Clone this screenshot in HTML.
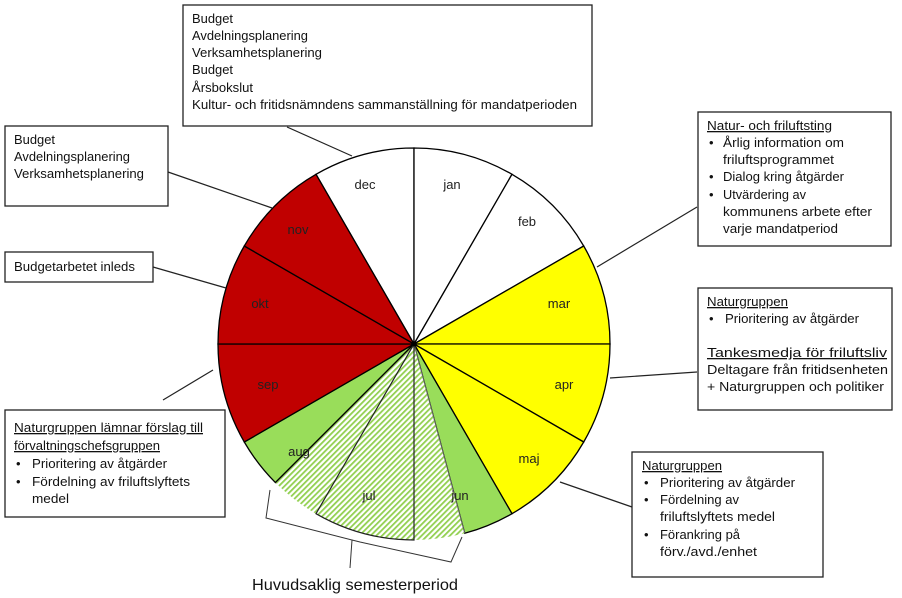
<!DOCTYPE html>
<html><head><meta charset="utf-8"><style>
html,body{margin:0;padding:0;background:#fff;}
svg{display:block;font-family:"Liberation Sans",sans-serif;}
</style></head><body>
<svg width="902" height="598" viewBox="0 0 902 598" xmlns="http://www.w3.org/2000/svg">
<defs>
<pattern id="h" width="4" height="4" patternUnits="userSpaceOnUse" patternTransform="rotate(45)">
<rect width="4" height="4" fill="#fff"/>
<rect width="1.8" height="4" fill="#92d050"/>
</pattern>
</defs>
<!-- slices -->
<g stroke="#000" stroke-width="1.3">
<path d="M414,344 L414,148 A196,196 0 0 0 316,174.3 Z" fill="#fff"/>
<path d="M414,344 L512,174.3 A196,196 0 0 0 414,148 Z" fill="#fff"/>
<path d="M414,344 L583.7,246 A196,196 0 0 0 512,174.3 Z" fill="#fff"/>
<path d="M414,344 L610,344 A196,196 0 0 0 583.7,246 Z" fill="#ffff00"/>
<path d="M414,344 L583.7,442 A196,196 0 0 0 610,344 Z" fill="#ffff00"/>
<path d="M414,344 L512,513.7 A196,196 0 0 0 583.7,442 Z" fill="#ffff00"/>
<path d="M414,344 L464.7,533.3 A196,196 0 0 0 512,513.7 Z" fill="#99dd5a"/>
<path d="M414,344 L244.3,442 A196,196 0 0 0 275.4,482.6 Z" fill="#99dd5a"/>
<path d="M414,344 L218,344 A196,196 0 0 0 244.3,442 Z" fill="#c00000"/>
<path d="M414,344 L244.3,246 A196,196 0 0 0 218,344 Z" fill="#c00000"/>
<path d="M414,344 L316,174.3 A196,196 0 0 0 244.3,246 Z" fill="#c00000"/>
</g>
<path d="M414,344 L275.4,482.6 A196,196 0 0 0 464.7,533.3 Z" fill="url(#h)"/>
<line x1="414" y1="344" x2="464.7" y2="533.3" stroke="#666" stroke-width="1"/>
<line x1="414" y1="344" x2="275.4" y2="482.6" stroke="#000" stroke-width="1.3"/>
<path d="M414,344 L414,540 A196,196 0 0 1 316,513.7 Z" fill="none" stroke="#222" stroke-width="1.2"/>
<circle cx="414" cy="344" r="2.5" fill="#000"/>
<!-- month labels -->
<g font-size="13" fill="#222" text-anchor="middle">
<text x="365" y="189">dec</text>
<text x="452" y="189">jan</text>
<text x="527" y="226">feb</text>
<text x="559" y="308">mar</text>
<text x="564" y="389">apr</text>
<text x="529" y="463">maj</text>
<text x="460" y="500">jun</text>
<text x="369" y="500">jul</text>
<text x="299" y="456">aug</text>
<text x="268" y="389">sep</text>
<text x="260" y="308">okt</text>
<text x="298" y="234">nov</text>
</g>
<!-- connectors -->
<g stroke="#222" stroke-width="1.2" fill="none">
<line x1="287" y1="127" x2="352" y2="156"/>
<line x1="168" y1="172" x2="272" y2="208"/>
<line x1="153" y1="267" x2="226" y2="288"/>
<line x1="163" y1="400" x2="213" y2="370"/>
<line x1="597" y1="267" x2="697" y2="207"/>
<line x1="610" y1="378" x2="697" y2="372"/>
<line x1="560" y1="482" x2="632" y2="507"/>
<path d="M270,490 L266,518 L352,540 L350,568 M352,540 L360,542 L451,562 L462,537" stroke="#333" stroke-width="1"/>
</g>
<!-- boxes -->
<g fill="#fff" stroke="#222" stroke-width="1.3">
<rect x="183" y="5" width="409" height="121"/>
<rect x="5" y="126" width="163" height="80"/>
<rect x="5" y="252" width="148" height="30"/>
<rect x="5" y="410" width="220" height="107"/>
<rect x="698" y="112" width="193" height="134"/>
<rect x="698" y="288" width="194" height="122"/>
<rect x="632" y="452" width="191" height="125"/>
</g>
<g font-size="13" fill="#111" lengthAdjust="spacingAndGlyphs">
<text x="192" y="23" textLength="41" lengthAdjust="spacingAndGlyphs">Budget</text>
<text x="192" y="40" textLength="116" lengthAdjust="spacingAndGlyphs">Avdelningsplanering</text>
<text x="192" y="57" textLength="130" lengthAdjust="spacingAndGlyphs">Verksamhetsplanering</text>
<text x="192" y="74" textLength="41" lengthAdjust="spacingAndGlyphs">Budget</text>
<text x="192" y="92" textLength="61" lengthAdjust="spacingAndGlyphs">Årsbokslut</text>
<text x="192" y="109" textLength="385" lengthAdjust="spacingAndGlyphs">Kultur- och fritidsnämndens sammanställning för mandatperioden</text>

<text x="14" y="144" textLength="41" lengthAdjust="spacingAndGlyphs">Budget</text>
<text x="14" y="161" textLength="116" lengthAdjust="spacingAndGlyphs">Avdelningsplanering</text>
<text x="14" y="178" textLength="130" lengthAdjust="spacingAndGlyphs">Verksamhetsplanering</text>

<text x="14" y="271" textLength="121" lengthAdjust="spacingAndGlyphs">Budgetarbetet inleds</text>

<text x="14" y="432" textLength="189" lengthAdjust="spacingAndGlyphs" text-decoration="underline">Naturgruppen lämnar förslag till</text>
<text x="14" y="450" textLength="146" lengthAdjust="spacingAndGlyphs" text-decoration="underline">förvaltningschefsgruppen</text>
<text x="16" y="468">•</text><text x="32" y="468" textLength="135" lengthAdjust="spacingAndGlyphs">Prioritering av åtgärder</text>
<text x="16" y="486">•</text><text x="32" y="486" textLength="158" lengthAdjust="spacingAndGlyphs">Fördelning av friluftslyftets</text>
<text x="32" y="503" textLength="37" lengthAdjust="spacingAndGlyphs">medel</text>

<text x="707" y="130" textLength="125" lengthAdjust="spacingAndGlyphs" text-decoration="underline">Natur- och friluftsting</text>
<text x="709" y="147">•</text><text x="723" y="147" textLength="121" lengthAdjust="spacingAndGlyphs">Årlig information om</text>
<text x="723" y="164" textLength="111" lengthAdjust="spacingAndGlyphs">friluftsprogrammet</text>
<text x="709" y="181">•</text><text x="723" y="181" textLength="121" lengthAdjust="spacingAndGlyphs">Dialog kring åtgärder</text>
<text x="709" y="199">•</text><text x="723" y="199" textLength="83" lengthAdjust="spacingAndGlyphs">Utvärdering av</text>
<text x="723" y="216" textLength="149" lengthAdjust="spacingAndGlyphs">kommunens arbete efter</text>
<text x="723" y="233" textLength="115" lengthAdjust="spacingAndGlyphs">varje mandatperiod</text>

<text x="707" y="306" textLength="81" lengthAdjust="spacingAndGlyphs" text-decoration="underline">Naturgruppen</text>
<text x="709" y="323">•</text><text x="725" y="323" textLength="134" lengthAdjust="spacingAndGlyphs">Prioritering av åtgärder</text>
<text x="707" y="357" textLength="180" lengthAdjust="spacingAndGlyphs" text-decoration="underline">Tankesmedja för friluftsliv</text>
<text x="707" y="374" textLength="181" lengthAdjust="spacingAndGlyphs">Deltagare från fritidsenheten</text>
<text x="707" y="391" textLength="177" lengthAdjust="spacingAndGlyphs">+ Naturgruppen och politiker</text>

<text x="642" y="470" textLength="80" lengthAdjust="spacingAndGlyphs" text-decoration="underline">Naturgruppen</text>
<text x="644" y="487">•</text><text x="660" y="487" textLength="135" lengthAdjust="spacingAndGlyphs">Prioritering av åtgärder</text>
<text x="644" y="504">•</text><text x="660" y="504" textLength="79" lengthAdjust="spacingAndGlyphs">Fördelning av</text>
<text x="660" y="521" textLength="115" lengthAdjust="spacingAndGlyphs">friluftslyftets medel</text>
<text x="644" y="539">•</text><text x="660" y="539" textLength="80" lengthAdjust="spacingAndGlyphs">Förankring på</text>
<text x="660" y="556" textLength="97" lengthAdjust="spacingAndGlyphs">förv./avd./enhet</text>
</g>
<text x="252" y="590" font-size="16" fill="#111" textLength="206" lengthAdjust="spacingAndGlyphs">Huvudsaklig semesterperiod</text>
</svg>
</body></html>
